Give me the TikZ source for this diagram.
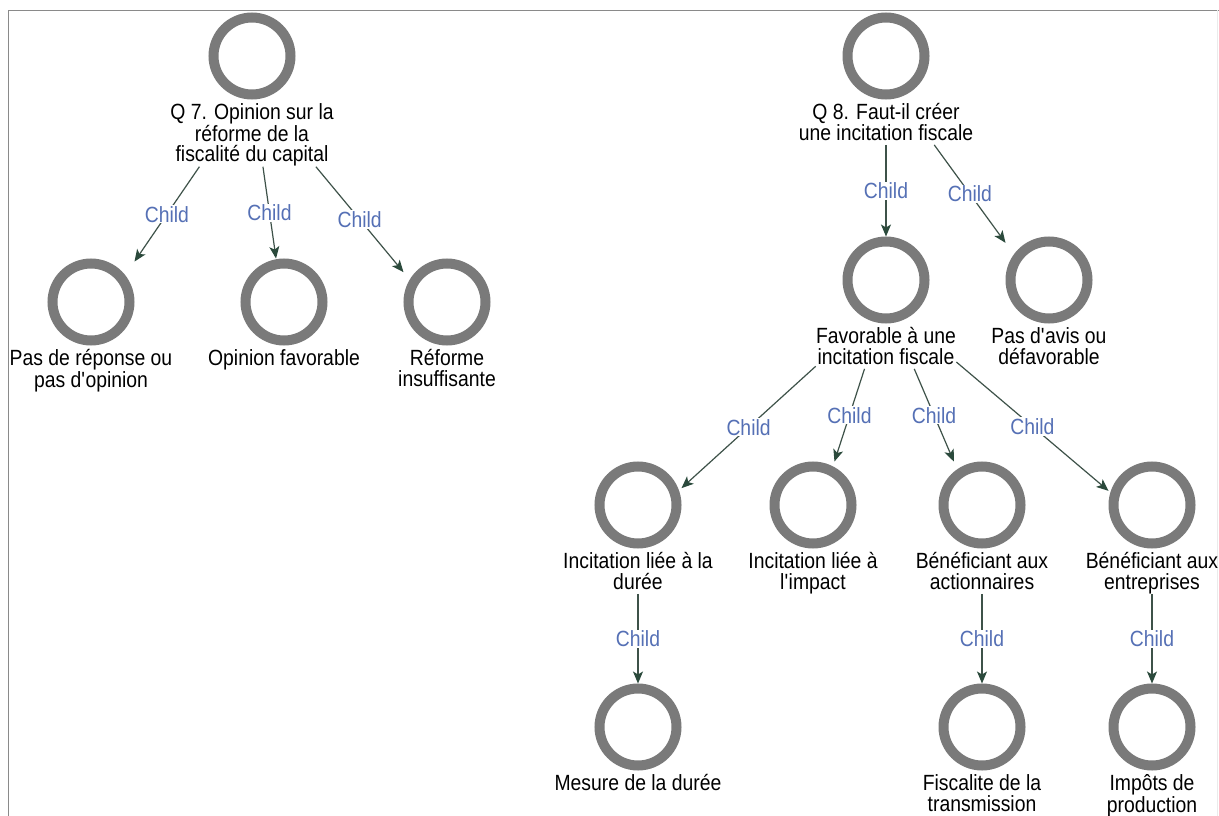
\documentclass[tikz,border=0pt]{standalone}
\usepackage{fontspec}
\setmainfont{Liberation Sans}[FakeStretch=0.88]
\usetikzlibrary{fit,intersections,arrows.meta}
\definecolor{ringc}{HTML}{7A7A7A}
\definecolor{linec}{HTML}{3E5249}
\definecolor{tipc}{HTML}{2B4A3C}
\definecolor{lblc}{HTML}{5570B5}
\definecolor{framec}{HTML}{8A8A8A}
\newcommand\mkitem[4]{%
  \node[ring] (#1c) at (#2,#3) {};
  \node[txt, anchor=north] (#1t) at ([yshift=-2pt]#1c.south) {\rule{0pt}{18pt}#4\rule[-4.5pt]{0pt}{4.5pt}};
  \node[fit=(#1c)(#1t), inner sep=0pt] (#1) {};
}
\newcommand\mkedge[2]{%
  \path[name path=L#1#2] (#1.center) -- (#2.center);
  \path[name path=B#1#2] (#2c.west |- #2c.north) rectangle (#2c.east |- #2c.south);
  \path[name intersections={of=L#1#2 and B#1#2, by={#2e}}];
  \draw[arr] (#1) -- node[lbl]{Child} (#2e);
}
\begin{document}
\begin{tikzpicture}[x=1pt,y=-1pt,
  ring/.style={circle, draw=ringc, line width=10pt, minimum size=77pt, inner sep=0pt},
  txt/.style={align=center, inner sep=0pt, font=\fontsize{22pt}{20.3pt}\selectfont},
  lbl/.style={fill=white, inner sep=1pt, text=lblc, font=\fontsize{22pt}{20.3pt}\selectfont},
  arr/.style={draw=linec, line width=1.2pt, -{Stealth[length=12pt,width=10pt,inset=3pt,color=tipc]}}
]
\fill[white] (0,0) rectangle (1219,816);
\useasboundingbox (0,0) rectangle (1219,816);
\draw[framec, line width=1.5pt] (8.5,816) -- (8.5,10.5) -- (1219,10.5);
\draw[black!8, line width=1pt] (1217.5,10.5) -- (1217.5,816);

% left tree
\mkitem{qa}{252}{56}{Q 7. Opinion sur la\\réforme de la\\fiscalité du capital}
\mkitem{aa}{91}{302}{Pas de réponse ou\\pas d\textquotesingle opinion}
\mkitem{ab}{284}{302}{Opinion favorable}
\mkitem{ac}{447}{302}{Réforme\\insuffisante}

% right tree
\mkitem{qb}{886}{56}{Q 8. Faut-il créer\\une incitation fiscale}
\mkitem{ba}{886}{280}{Favorable à une\\incitation fiscale}
\mkitem{bb}{1049}{280}{Pas d\textquotesingle avis ou\\défavorable}
\mkitem{ca}{638}{505}{Incitation liée à la\\durée}
\mkitem{cb}{813}{505}{Incitation liée à\\l\textquotesingle impact}
\mkitem{cc}{982}{505}{Bénéficiant aux\\actionnaires}
\mkitem{cd}{1152}{505}{Bénéficiant aux\\entreprises}
\mkitem{da}{638}{727}{Mesure de la durée}
\mkitem{dc}{982}{727}{Fiscalite de la\\transmission}
\mkitem{dd}{1152}{727}{Impôts de\\production}

\mkedge{qa}{aa}
\mkedge{qa}{ab}
\mkedge{qa}{ac}
\mkedge{qb}{ba}
\mkedge{qb}{bb}
\mkedge{ba}{ca}
\mkedge{ba}{cb}
\mkedge{ba}{cc}
\mkedge{ba}{cd}
\mkedge{ca}{da}
\mkedge{cc}{dc}
\mkedge{cd}{dd}
\end{tikzpicture}
\end{document}
